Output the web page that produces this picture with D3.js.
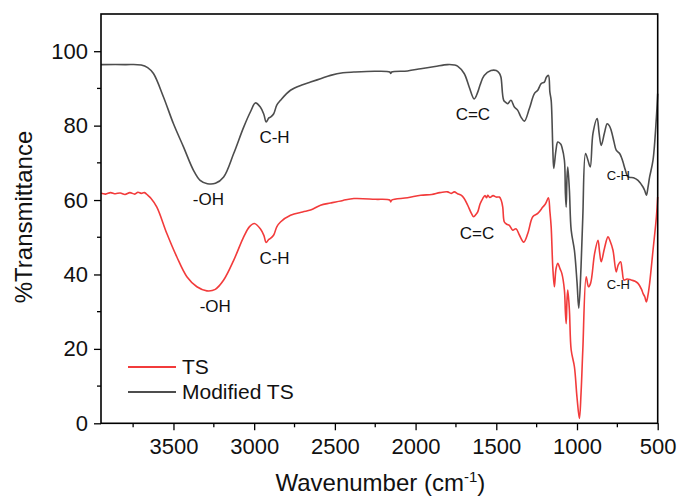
<!DOCTYPE html>
<html>
<head>
<meta charset="utf-8">
<script src="https://cdn.jsdelivr.net/npm/d3@7"></script>
<style>
  body { margin: 0; background: #fff; }
  text { font-family: "Liberation Sans", Arial, sans-serif; fill: #111; }
</style>
</head>
<body>
<div id="container"></div>
<script>
let w = 678;
let h = 501;

// TS (red) spectrum
let tsWavenumber = [3949,3920,3890,3860,3830,3800,3770,3740,3720,3700,3680,3660,3640,3603,3541,3479,3417,3355,3293,3241,3189,3127,3065,3030,2999,2962,2940,2926,2910,2899,2879,2860,2837,2775,2700,2651,2589,2527,2450,2382,2250,2160,2154,2148,2050,1968,1900,1850,1802,1780,1760,1740,1718,1700,1677,1655,1640,1625,1615,1600,1584,1570,1560,1553,1540,1520,1500,1481,1470,1460,1450,1435,1419,1398,1378,1357,1330,1305,1274,1243,1212,1195,1177,1168,1160,1150,1140,1130,1119,1105,1094,1078,1072,1067,1062,1057,1047,1036,1016,1000,985,975,964,943,929,916,891,870,860,850,830,808,795,777,757,745,730,720,709,690,664,640,622,600,591,580,570,560,550,529,508,500];
let tsValues = [61.8,61.6,62.0,61.7,61.9,61.5,62.0,61.6,62.1,61.8,62.0,61.3,60.5,58.1,51.0,44.7,39.4,36.7,35.6,36.0,38.5,43.8,50.1,52.8,53.7,52.3,50.5,48.6,49.4,49.7,50.6,52.8,54.1,55.9,56.8,57.3,58.6,59.2,59.9,60.4,60.2,60.0,59.5,60.0,60.6,61.3,61.5,62.0,62.2,61.8,62.2,61.7,61.3,60.5,58.6,56.5,55.5,56.2,56.8,59.0,60.4,61.2,60.6,61.3,60.7,61.2,60.8,60.8,60.0,58.1,54.1,53.5,53.2,51.9,52.3,50.6,48.7,51.0,55.5,56.4,58.1,59.0,60.6,57.0,52.8,42.0,36.7,41.5,43.0,41.5,40.3,35.8,30.0,26.8,33.0,35.8,30.4,19.7,15.2,7.0,1.3,8.0,19.7,39.4,36.7,37.6,45.6,49.2,46.0,43.4,47.0,50.1,49.0,46.5,40.7,42.5,43.4,41.0,38.5,38.8,38.5,38.2,37.6,36.0,34.9,34.0,32.6,34.5,37.6,46.5,55.5,60.8];

// Modified TS (grey) spectrum
let modWavenumber = [3949,3800,3700,3660,3624,3562,3500,3438,3376,3335,3290,3240,3189,3127,3065,3020,2993,2962,2940,2926,2910,2899,2879,2860,2837,2775,2700,2651,2589,2527,2450,2382,2250,2160,2154,2148,2050,1968,1880,1802,1760,1740,1699,1668,1637,1615,1600,1575,1533,1500,1480,1471,1454,1440,1429,1409,1388,1367,1347,1326,1295,1264,1243,1222,1202,1190,1177,1168,1160,1150,1144,1130,1119,1100,1094,1078,1072,1067,1062,1057,1047,1036,1016,1000,989,975,964,947,932,918,901,875,863,850,830,813,800,788,770,757,736,725,715,700,684,650,622,591,580,570,560,550,529,508,500];
let modValues = [96.4,96.4,96.3,95.6,94.0,87.7,80.5,74.3,68.0,65.3,64.4,64.5,66.2,72.5,79.6,84.0,86.1,85.0,83.0,81.0,82.0,82.3,83.2,85.5,86.8,89.5,91.0,91.7,92.6,93.5,94.2,94.4,94.6,94.4,94.0,94.4,94.7,95.3,95.9,96.4,96.3,96.0,94.0,90.4,87.2,89.0,91.0,93.5,94.8,94.8,94.0,93.0,86.8,86.2,85.9,86.8,85.0,84.1,82.3,81.2,84.6,88.6,89.5,91.3,91.7,93.0,93.5,89.0,86.8,74.0,68.5,73.5,75.6,75.0,74.3,70.7,62.0,58.1,66.0,68.9,62.6,51.9,46.5,38.0,30.9,42.0,55.5,72.5,70.7,68.9,77.9,81.9,78.0,74.7,78.0,80.5,80.0,78.7,75.5,73.4,72.5,71.5,70.2,68.0,66.2,66.0,65.3,63.5,62.5,61.3,63.5,66.2,70.7,82.3,88.6];

let xTickValues = [3500,3000,2500,2000,1500,1000,500];
let yTickValues = [0,20,40,60,80,100];
let seriesNames = ["TS","Modified TS"];
let seriesColors = ["#f23b3b","#4d4d4d"];

// band labels: text, wavenumber, value, size
let bandLabels = [
  ["-OH",3284,58.6,17],["C-H",2874,75.3,17],["C=C",1645,81.4,17],["C-H",744,65.3,13],
  ["-OH",3241,29.9,17],["C-H",2874,42.8,17],["C=C",1620,49.5,17],["C-H",744,36.1,13]
];

let plotLeft = 101, plotRight = 657.7, plotTop = 14, plotBottom = 423.3;

let viz = d3.select("#container").append("svg")
  .attr("width", w)
  .attr("height", h)
  .style("background-color", "white");

let xScale = d3.scaleLinear().domain([3949, 500]).range([plotLeft, plotRight]);
let yScale = d3.scaleLinear().domain([0, 110]).range([plotBottom, plotTop]);

// minor ticks
let xMinor = d3.range(750, 3949, 250).filter(d => d % 500 != 0);
let yMinor = d3.range(10, 110, 20);

let xAxis = d3.axisBottom(xScale).tickValues(xTickValues).tickSize(7).tickPadding(8).tickFormat(d3.format("d"));
let yAxis = d3.axisLeft(yScale).tickValues(yTickValues).tickSize(7).tickPadding(6);

viz.append("g").attr("transform", "translate(0," + plotBottom + ")")
  .selectAll("line").data(xMinor).enter().append("line")
  .attr("x1", d => xScale(d)).attr("x2", d => xScale(d))
  .attr("y1", 0).attr("y2", 4).attr("stroke", "#000").attr("stroke-width", 1.3);
viz.append("g").attr("transform", "translate(" + plotLeft + ",0)")
  .selectAll("line").data(yMinor).enter().append("line")
  .attr("y1", d => yScale(d)).attr("y2", d => yScale(d))
  .attr("x1", 0).attr("x2", -4).attr("stroke", "#000").attr("stroke-width", 1.3);

let gx = viz.append("g").attr("transform", "translate(0," + plotBottom + ")").call(xAxis);
let gy = viz.append("g").attr("transform", "translate(" + plotLeft + ",0)").call(yAxis);
[gx, gy].forEach(function(g){
  g.select(".domain").remove();
  g.selectAll("line").attr("stroke", "#000").attr("stroke-width", 1.3);
  g.selectAll("text").style("font-size", "22px").attr("fill", "#111");
});

// lines
let lineMaker = d3.line()
  .x(d => xScale(d[0]))
  .y(d => yScale(d[1]))
  .curve(d3.curveCatmullRom.alpha(0.5));

let tsData = tsWavenumber.map((d, i) => [d, tsValues[i]]);
let modData = modWavenumber.map((d, i) => [d, modValues[i]]);

viz.append("path").datum(tsData)
  .attr("d", lineMaker).attr("fill", "none")
  .attr("stroke", seriesColors[0]).attr("stroke-width", 1.6);
viz.append("path").datum(modData)
  .attr("d", lineMaker).attr("fill", "none")
  .attr("stroke", seriesColors[1]).attr("stroke-width", 1.6);

// frame
viz.append("rect")
  .attr("x", plotLeft).attr("y", plotTop)
  .attr("width", plotRight - plotLeft).attr("height", plotBottom - plotTop)
  .attr("fill", "none").attr("stroke", "#000").attr("stroke-width", 1.6);

// band labels
viz.selectAll(".band").data(bandLabels).enter()
  .append("text")
  .attr("class", "band")
  .attr("x", d => xScale(d[1]))
  .attr("y", d => yScale(d[2]))
  .attr("text-anchor", "middle")
  .style("font-size", d => d[3] + "px")
  .text(d => d[0]);

// legend
let legend = viz.append("g").attr("transform", "translate(128,367)");
seriesNames.forEach(function(name, i){
  legend.append("line")
    .attr("x1", 0).attr("x2", 48)
    .attr("y1", i * 25).attr("y2", i * 25)
    .attr("stroke", seriesColors[i]).attr("stroke-width", 1.8);
  legend.append("text")
    .attr("x", 54).attr("y", i * 25 + 7)
    .style("font-size", "21px")
    .text(name);
});

// axis titles
let xt = viz.append("text")
  .attr("x", (plotLeft + plotRight) / 2 + 1).attr("y", 491)
  .attr("text-anchor", "middle")
  .style("font-size", "24px");
xt.append("tspan").text("Wavenumber (cm");
xt.append("tspan").attr("dy", -9).style("font-size", "15px").text("-1");
xt.append("tspan").attr("dy", 9).text(")");

viz.append("text")
  .attr("transform", "translate(32," + 217 + ") rotate(-90)")
  .attr("text-anchor", "middle")
  .style("font-size", "24px")
  .text("%Transmittance");
</script>
</body>
</html>
